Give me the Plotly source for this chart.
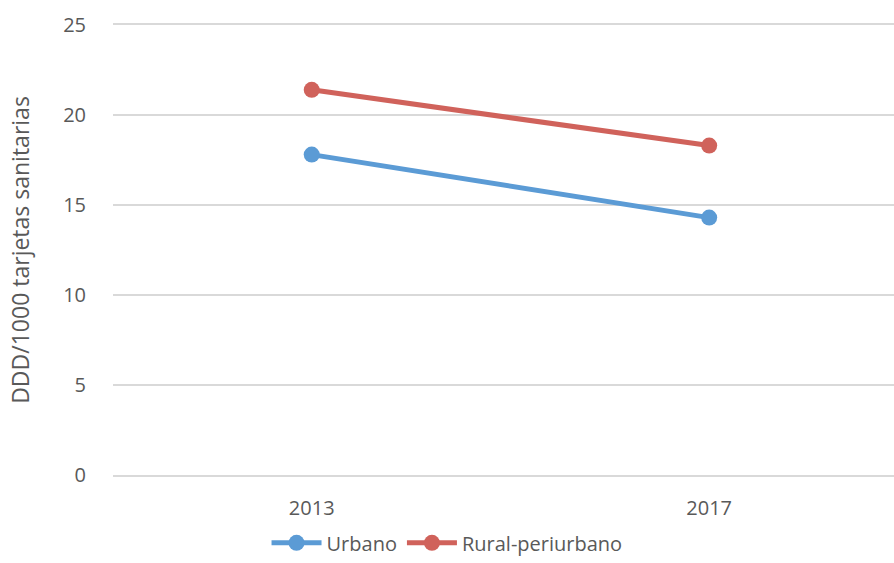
import plotly.graph_objects as go

years = ["2013", "2017"]
urbano = [17.8, 14.3]
rural = [21.4, 18.3]

fig = go.Figure()
fig.add_trace(go.Scatter(x=years, y=urbano, mode="lines+markers", name="Urbano",
                         line=dict(color="#5B9BD5", width=5),
                         marker=dict(size=16, color="#5B9BD5")))
fig.add_trace(go.Scatter(x=years, y=rural, mode="lines+markers", name="Rural-periurbano",
                         line=dict(color="#D0625B", width=5),
                         marker=dict(size=16, color="#D0625B")))

fig.update_layout(
    width=894, height=563,
    margin=dict(l=113, r=0, t=25, b=88),
    paper_bgcolor="white", plot_bgcolor="white",
    font=dict(family="Open Sans", size=20, color="#595959"),
    showlegend=True,
    # legend centred on the whole figure, sitting at the bottom edge
    legend=dict(orientation="h", x=0.4277, xanchor="center",
                y=-0.194, yanchor="bottom",
                font=dict(size=20, color="#595959"), itemwidth=50),
)
fig.update_xaxes(type="category", range=[-0.5, 1.465], showgrid=False,
                 showline=True, mirror=True, linecolor="#D9D9D9", linewidth=1.5,
                 zeroline=False, ticks="outside", ticklen=14, tickcolor="rgba(0,0,0,0)",
                 tickfont=dict(size=20), automargin=False)
fig.update_yaxes(range=[0, 25], dtick=5, showgrid=True, gridcolor="#D9D9D9",
                 gridwidth=1.5, zeroline=False, showline=False,
                 ticks="outside", ticklen=22, tickcolor="rgba(0,0,0,0)",
                 tickfont=dict(size=20), automargin=False,
                 title=dict(text="DDD/1000 tarjetas sanitarias", standoff=27,
                            font=dict(size=23, color="#595959")))

fig.write_html("out.html", config={"displayModeBar": False},
               post_script="document.body.style.margin='0';")
